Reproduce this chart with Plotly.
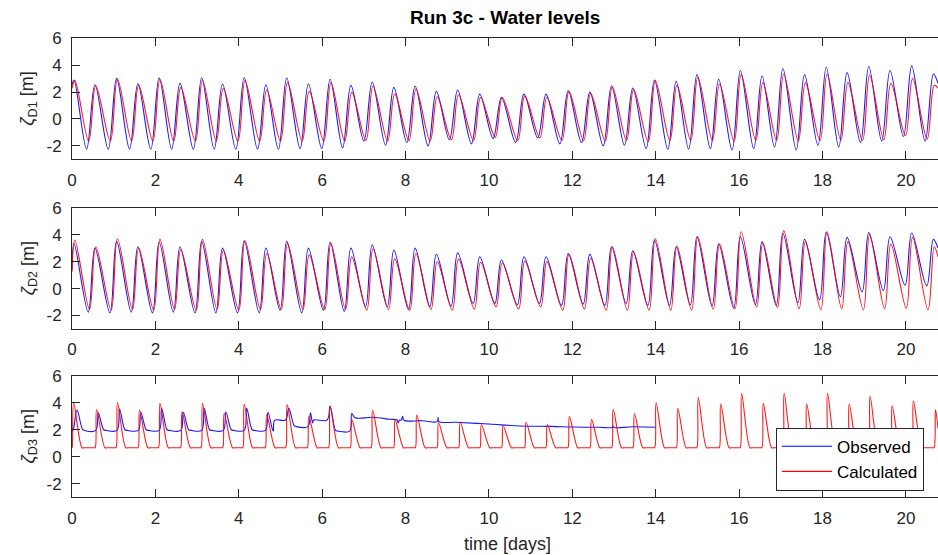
import plotly.graph_objects as go

# ---------------- data ----------------
# times of high water (days), shared by the observed series
peak_t = [0.05, 0.55, 1.07, 1.58, 2.09, 2.59, 3.11, 3.61, 4.13, 4.65,
          5.15, 5.67, 6.19, 6.69, 7.20, 7.72, 8.23, 8.74, 9.25, 9.78,
          10.30, 10.84, 11.37, 11.90, 12.42, 12.94, 13.45, 13.97, 14.49, 14.99,
          15.51, 16.03, 16.55, 17.05, 17.57, 18.09, 18.59, 19.11, 19.62, 20.14,
          20.66]

# D1 - high waters (41) and preceding low waters (40, before peaks 1..40)
d1_obs_high = [2.90, 2.55, 3.02, 2.62, 3.07, 2.65, 3.07, 2.60, 3.07, 2.55,
               3.05, 2.60, 2.95, 2.50, 2.75, 2.35, 2.45, 2.05, 2.15, 1.85,
               1.60, 1.85, 1.85, 2.10, 2.00, 2.45, 2.30, 2.90, 2.80, 3.30,
               2.95, 3.60, 3.20, 3.75, 3.30, 3.85, 3.45, 3.90, 3.60, 3.95,
               3.35]
d1_obs_low = [-2.25, -2.25, -2.25, -2.25, -2.25, -2.25, -2.25, -2.25, -2.25, -2.25,
              -2.20, -2.20, -2.15, -1.65, -1.95, -1.75, -2.00, -1.55, -1.85, -1.45,
              -1.75, -1.40, -1.85, -1.75, -2.00, -1.95, -2.20, -2.25, -2.25, -2.20,
              -2.30, -2.20, -2.10, -2.30, -1.95, -2.10, -1.75, -1.65, -1.30, -1.65]
d1_calc_high = [2.85, 2.47, 2.97, 2.52, 2.95, 2.35, 2.90, 2.28, 2.85, 2.15,
                2.72, 2.05, 2.70, 1.98, 2.45, 1.85, 2.25, 1.65, 1.80, 1.60,
                1.60, 1.70, 1.60, 2.05, 1.90, 2.40, 2.20, 2.85, 2.50, 3.10,
                2.60, 3.30, 2.70, 3.35, 2.70, 3.35, 2.70, 3.25, 2.65, 3.00,
                2.50]
d1_calc_low = [-1.65, -1.65, -1.65, -1.65, -1.65, -1.65, -1.65, -1.65, -1.65, -1.65,
               -1.65, -1.65, -1.65, -1.60, -1.65, -1.60, -1.65, -1.55, -1.60, -1.35,
               -1.60, -1.40, -1.60, -1.60, -1.65, -1.60, -1.70, -1.60, -1.60, -1.60,
               -1.65, -1.60, -1.60, -1.65, -1.60, -1.60, -1.60, -1.55, -1.25, -1.50]

# D2
d2_obs_high = [3.35, 3.00, 3.50, 3.10, 3.45, 3.10, 3.50, 3.00, 3.55, 3.00,
               3.50, 3.00, 3.45, 3.00, 3.25, 2.85, 3.00, 2.55, 2.65, 2.36,
               2.12, 2.36, 2.36, 2.60, 2.54, 3.10, 2.80, 3.60, 3.10, 3.85,
               3.33, 3.85, 3.48, 4.10, 3.65, 4.20, 3.80, 4.15, 3.85, 4.12,
               3.65]
d2_obs_low = [-1.75, -1.80, -1.75, -1.80, -1.75, -1.80, -1.80, -1.80, -1.80, -1.60,
              -1.80, -1.60, -1.70, -1.35, -1.35, -1.55, -1.35, -1.30, -1.10, -1.10,
              -1.20, -1.10, -1.25, -1.15, -1.25, -1.10, -1.25, -1.25, -1.20, -1.30,
              -1.45, -1.20, -1.25, -1.05, -0.82, -0.60, -0.25, -0.15, 0.25, 0.20]
d2_calc_high = [3.60, 3.10, 3.70, 3.00, 3.65, 2.90, 3.65, 2.85, 3.55, 2.60,
                3.35, 2.50, 3.35, 2.35, 2.95, 2.20, 2.60, 2.00, 2.20, 1.95,
                1.90, 2.05, 2.00, 2.55, 2.25, 3.10, 2.70, 3.70, 3.15, 3.85,
                3.30, 4.22, 3.40, 4.30, 3.50, 4.22, 3.48, 4.00, 3.30, 3.80,
                3.10]
d2_calc_low = [-1.55, -1.60, -1.55, -1.60, -1.55, -1.60, -1.55, -1.60, -1.55, -1.55,
               -1.55, -1.55, -1.55, -1.60, -1.55, -1.60, -1.55, -1.60, -1.52, -1.35,
               -1.52, -1.35, -1.60, -1.52, -1.60, -1.60, -1.60, -1.60, -1.60, -1.54,
               -1.50, -1.38, -1.40, -1.50, -1.57, -1.50, -1.57, -1.50, -1.45, -1.57]

# values at the start (t=0) and at the right edge
t_end = 20.77
d1_obs_ends = [2.55, 2.65]
d1_calc_ends = [2.28, 2.30]
d2_obs_ends = [1.40, 3.00]
d2_calc_ends = [1.25, 2.35]

# D3 calculated: spike peaks above a flat base level
d3_calc_peak_t = [0.04, 0.59, 1.09, 1.62, 2.11, 2.64, 3.13, 3.65, 4.13, 4.67,
                  5.16, 5.68, 6.19, 6.71, 7.21, 7.75, 8.27, 8.79, 9.31, 9.82,
                  10.34, 10.89, 11.40, 11.93, 12.46, 12.98, 13.49, 14.01, 14.53, 15.02,
                  15.56, 16.06, 16.58, 17.08, 17.62, 18.12, 18.64, 19.14, 19.67, 20.18,
                  20.71]
d3_calc_peak = [4.00, 3.50, 4.02, 3.46, 3.95, 3.33, 3.95, 3.22, 3.88, 3.12,
                3.86, 3.00, 3.74, 2.75, 3.46, 2.73, 3.09, 2.52, 2.55, 2.37,
                2.30, 2.55, 2.38, 2.97, 2.77, 3.51, 3.20, 4.00, 3.58, 4.40,
                3.90, 4.70, 3.95, 4.70, 3.90, 4.70, 3.90, 4.50, 3.75, 4.15,
                3.50]
d3_calc_base = 0.67
d3_calc_end = 2.1

# D3 observed (record stops at day 14)
d3_obs_t = [0.00, 0.03, 0.12, 0.25, 0.30,
            0.57, 0.63, 0.76, 0.82,
            1.08, 1.14, 1.27, 1.33,
            1.59, 1.65, 1.78, 1.84,
            2.09, 2.15, 2.28, 2.34,
            2.61, 2.67, 2.80, 2.86,
            3.11, 3.17, 3.30, 3.36,
            3.63, 3.69, 3.82, 3.88,
            4.13, 4.19, 4.32, 4.38,
            4.64, 4.70, 4.80, 4.83, 4.86, 5.12, 5.20, 5.33, 5.38,
            5.66, 5.72, 5.77, 5.80, 6.12, 6.19, 6.32, 6.37,
            6.66, 6.71, 6.79, 7.21, 7.62, 7.80, 7.82, 7.86, 7.90, 7.93, 7.96,
            8.40, 8.76, 8.78, 8.80, 9.20, 10.00, 10.75, 11.50, 12.00, 12.66,
            12.96, 12.98, 13.00, 13.45, 14.00]
d3_obs_v = [1.90, 2.00, 3.45, 2.05, 1.95,
            1.95, 3.25, 2.00, 1.95,
            1.95, 3.53, 2.00, 1.95,
            1.95, 3.29, 2.00, 1.95,
            1.95, 3.58, 2.00, 1.95,
            1.95, 3.29, 2.00, 1.95,
            1.95, 3.58, 2.00, 1.95,
            1.95, 3.31, 2.00, 1.95,
            1.95, 3.58, 2.00, 1.95,
            1.95, 3.29, 2.10, 1.90, 2.70, 2.72, 3.58, 2.30, 2.23,
            2.23, 3.26, 2.50, 2.72, 2.72, 3.75, 1.95, 1.90,
            1.90, 3.20, 2.88, 2.92, 2.78, 2.72, 2.50, 2.72, 2.72, 3.00, 2.70,
            2.67, 2.60, 2.90, 2.60, 2.55, 2.42, 2.28, 2.25, 2.20, 2.18,
            2.17, 2.28, 2.17, 2.22, 2.18]

# time lag from low water to high water (days), per series
rise_d1_obs, rise_d1_calc = 0.20, 0.17
rise_d2_obs, rise_d2_calc = 0.16, 0.15
calc_lag = 0.02   # calculated high water lags observed slightly

# ---------------- build lines ----------------
def tide_line(times, highs, lows, rise, ends, lag=0.0):
    xs, ys = [0.0], [ends[0]]
    for k, (t, h) in enumerate(zip(times, highs)):
        if k > 0:
            xs.append(t + lag - rise)
            ys.append(lows[k - 1])
        xs.append(t + lag)
        ys.append(h)
    xs.append(t_end)
    ys.append(ends[1])
    return xs, ys


def spike_line(times, peaks, base, end_v):
    xs, ys = [0.0], [base]
    for t, p in zip(times, peaks):
        xs += [t - 0.07, t - 0.035, t, t + 0.2, t + 0.26]
        ys += [base, base, p, base, base]
    pairs = [(x, y) for x, y in zip(xs, ys) if 0 <= x <= t_end]
    xs = [p[0] for p in pairs] + [t_end]
    ys = [p[1] for p in pairs] + [end_v]
    return xs, ys


BLUE = "#0000FF"
RED = "#FF0000"
AX = "#262626"
FONT = "Liberation Sans, Arial, Helvetica, sans-serif"

fig = go.Figure()

series = [
    (tide_line(peak_t, d1_obs_high, d1_obs_low, rise_d1_obs, d1_obs_ends), BLUE, "y"),
    (tide_line(peak_t, d1_calc_high, d1_calc_low, rise_d1_calc, d1_calc_ends, calc_lag), RED, "y"),
    (tide_line(peak_t, d2_obs_high, d2_obs_low, rise_d2_obs, d2_obs_ends), BLUE, "y2"),
    (tide_line(peak_t, d2_calc_high, d2_calc_low, rise_d2_calc, d2_calc_ends, calc_lag), RED, "y2"),
    ((d3_obs_t, d3_obs_v), BLUE, "y3"),
    (spike_line(d3_calc_peak_t, d3_calc_peak, d3_calc_base, d3_calc_end), RED, "y3"),
]

xa = {"y": "x", "y2": "x2", "y3": "x3"}
for (xs, ys), col, ya in series:
    fig.add_trace(go.Scatter(
        x=xs, y=ys, mode="lines", showlegend=False, hoverinfo="skip",
        line=dict(color=col, width=1.1, shape="spline", smoothing=1.0),
        xaxis=xa[ya], yaxis=ya, opacity=0.9))

# legend entries
fig.add_trace(go.Scatter(x=[None], y=[None], mode="lines", name="Observed",
                         line=dict(color=BLUE, width=1.1), xaxis="x3", yaxis="y3"))
fig.add_trace(go.Scatter(x=[None], y=[None], mode="lines", name="Calculated",
                         line=dict(color=RED, width=1.1), xaxis="x3", yaxis="y3"))

W, H = 938, 555
L = 72
plot_w = W - L
domains = [(38.3, 159.3), (207.7, 329.0), (375.7, 497.3)]

yticks = [-2, 0, 2, 4, 6]
ytext = ["-2", "0", "2", "4", "6"]
xticks = list(range(0, 21, 2))

layout = dict(
    width=W, height=H,
    margin=dict(l=L, r=0, t=0, b=0, autoexpand=False),
    paper_bgcolor="white", plot_bgcolor="white",
    font=dict(family=FONT, size=17, color=AX),
    showlegend=True,
    legend=dict(x=(776 - L) / plot_w, y=1 - 427.7 / H, xanchor="left", yanchor="top",
                bordercolor=AX, borderwidth=1, bgcolor="white",
                font=dict(size=17, color="#000000"), itemwidth=50,
                tracegroupgap=0),
)

for i, (top, bot) in enumerate(domains):
    sfx = "" if i == 0 else str(i + 1)
    layout["xaxis" + sfx] = dict(
        domain=[0, 1], range=[0, t_end], anchor="y" + sfx,
        tickvals=xticks, ticktext=[str(v) for v in xticks],
        ticks="inside", ticklen=8, tickcolor=AX, tickwidth=1,
        showline=True, linecolor=AX, linewidth=1, mirror="allticks",
        showgrid=False, zeroline=False, ticklabelstandoff=5, automargin=False,
        tickfont=dict(size=17, color=AX, family=FONT),
    )
    layout["yaxis" + sfx] = dict(
        domain=[1 - bot / H, 1 - top / H], range=[-3, 6], anchor="x" + sfx,
        tickvals=yticks, ticktext=ytext,
        ticks="inside", ticklen=8, tickcolor=AX, tickwidth=1,
        showline=True, linecolor=AX, linewidth=1, mirror=False,
        showgrid=False, zeroline=False, ticklabelstandoff=6, automargin=False,
        tickfont=dict(size=17, color=AX, family=FONT),
    )

fig.update_layout(**layout)

annotations = [
    dict(text="<b>Run 3c - Water levels</b>", x=0.5, y=1 - 17 / H, xref="paper", yref="paper",
         xanchor="center", yanchor="middle", showarrow=False,
         font=dict(size=19, color="#000000", family=FONT)),
    dict(text="time [days]", x=(507 - L) / plot_w, y=1 - 544 / H, xref="paper", yref="paper",
         xanchor="center", yanchor="middle", showarrow=False,
         font=dict(size=18, color=AX, family=FONT)),
]
for i, (top, bot) in enumerate(domains):
    annotations.append(dict(
        text="<i>ζ</i><sub>D%d</sub> [m]" % (i + 1), x=(29 - L) / plot_w,
        y=1 - (top + bot) / 2 / H, xref="paper", yref="paper",
        xanchor="center", yanchor="middle", textangle=-90, showarrow=False,
        font=dict(size=18, color=AX, family=FONT)))
fig.update_layout(annotations=annotations)

fig.write_html(
    "out.html",
    config={"displayModeBar": False},
    post_script="document.body.style.margin='0';document.body.style.overflow='hidden';",
)
